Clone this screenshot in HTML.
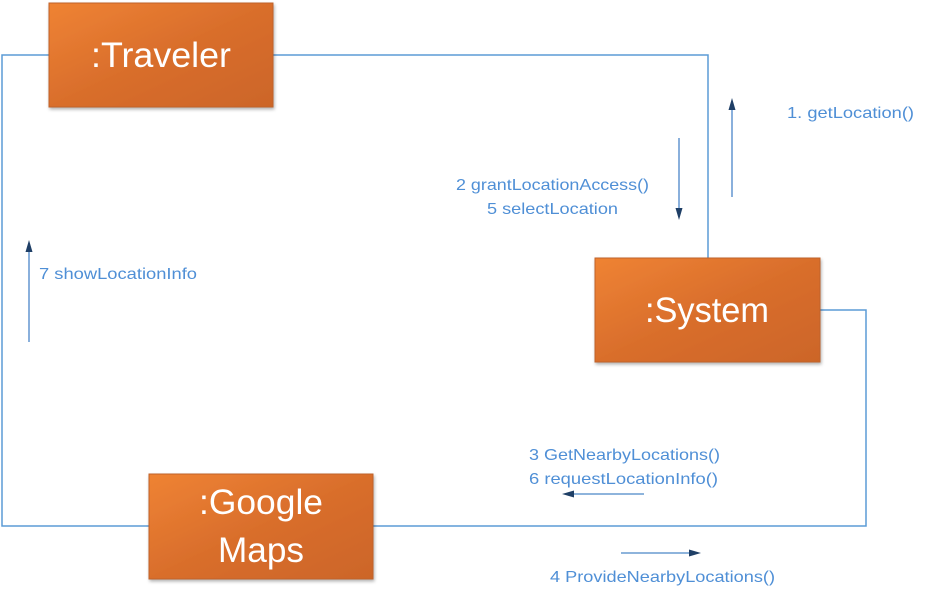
<!DOCTYPE html>
<html><head><style>body{margin:0;background:#fff}</style></head><body>
<svg width="925" height="598" xmlns="http://www.w3.org/2000/svg" font-family="Liberation Sans, sans-serif">
<defs>
<linearGradient id="g" x1="0" y1="0" x2="1" y2="1">
<stop offset="0" stop-color="#ef8333"/><stop offset="0.5" stop-color="#d96e2c"/><stop offset="1" stop-color="#cc6528"/>
</linearGradient>
<filter id="s"><feDropShadow dx="1" dy="2" stdDeviation="1.5" flood-opacity="0.3"/></filter>
</defs>
<g stroke="#5b9bd5" stroke-width="1.5" fill="none">
<polyline points="49,55 2,55 2,526 149,526"/>
<polyline points="273,55 708,55 708,258"/>
<polyline points="820,310 866,310 866,526 373,526"/>
</g>
<g stroke="#4a86c8" stroke-width="1.3" fill="#1f3f66">
<line x1="679" y1="138" x2="679" y2="214"/><polygon points="675.5,208 682.5,208 679,220" stroke="none"/>
<line x1="732" y1="197" x2="732" y2="104"/><polygon points="728.5,110 735.5,110 732,98" stroke="none"/>
<line x1="29" y1="342" x2="29" y2="246"/><polygon points="25.5,252 32.5,252 29,240" stroke="none"/>
<line x1="644" y1="494" x2="568" y2="494"/><polygon points="574,490.5 574,497.5 562,494" stroke="none"/>
<line x1="621" y1="553" x2="695" y2="553"/><polygon points="689,549.5 689,556.5 701,553" stroke="none"/>
</g>
<g filter="url(#s)">
<rect x="49" y="3" width="224" height="104" fill="url(#g)" stroke="#c0622a"/>
<rect x="595" y="258" width="225" height="104" fill="url(#g)" stroke="#c0622a"/>
<rect x="149" y="474" width="224" height="105" fill="url(#g)" stroke="#c0622a"/>
</g>
<g fill="#fff" font-size="35" text-anchor="middle">
<text x="161" y="67" textLength="140" lengthAdjust="spacingAndGlyphs">:Traveler</text>
<text x="707" y="322" textLength="124" lengthAdjust="spacingAndGlyphs">:System</text>
<text x="261" y="514" textLength="124" lengthAdjust="spacingAndGlyphs">:Google</text>
<text x="261" y="562" textLength="86" lengthAdjust="spacingAndGlyphs">Maps</text>
</g>
<g fill="#4f8fd6" font-size="16">
<text x="787" y="118" textLength="127" lengthAdjust="spacingAndGlyphs">1. getLocation()</text>
<text x="456" y="190" textLength="193" lengthAdjust="spacingAndGlyphs">2 grantLocationAccess()</text>
<text x="487" y="214" textLength="131" lengthAdjust="spacingAndGlyphs">5 selectLocation</text>
<text x="39" y="279" textLength="158" lengthAdjust="spacingAndGlyphs">7 showLocationInfo</text>
<text x="529" y="460" textLength="191" lengthAdjust="spacingAndGlyphs">3 GetNearbyLocations()</text>
<text x="529" y="484" textLength="189" lengthAdjust="spacingAndGlyphs">6 requestLocationInfo()</text>
<text x="550" y="582" textLength="225" lengthAdjust="spacingAndGlyphs">4 ProvideNearbyLocations()</text>
</g>
</svg>
</body></html>
